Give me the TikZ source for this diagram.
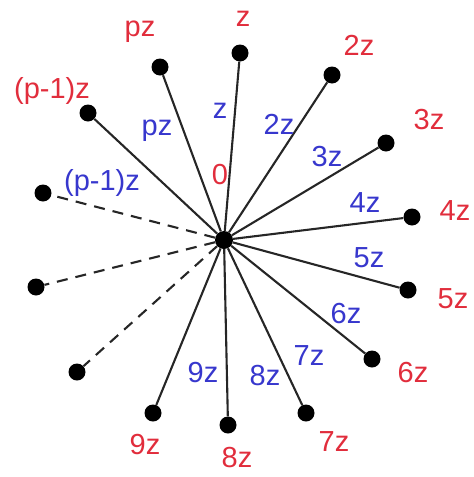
\documentclass[tikz,border=0pt]{standalone}
\usepackage{fontspec}
\setmainfont{Liberation Sans}
\usetikzlibrary{positioning}
\definecolor{lblred}{RGB}{225,45,60}
\definecolor{lblblue}{RGB}{55,55,205}

\begin{document}
\begin{tikzpicture}[x=1pt,y=-1pt,
  dot/.style={circle,fill=black,inner sep=0pt,minimum size=17pt},
  spoke/.style={line width=2.1pt,black!85},
  ghost/.style={line width=2.1pt,black!85,dash pattern=on 11pt off 8pt},
  outlbl/.style={text=lblred,inner sep=0pt,font=\fontsize{29}{31}\selectfont},
  inlbl/.style={text=lblblue,inner sep=0pt,font=\fontsize{29}{31}\selectfont}]

\useasboundingbox (0,0) rectangle (474,477);

% Define centre position
\def\cx{224}
\def\cy{240}

% Centre point
\node[dot, minimum size=18pt] (c) at (\cx,\cy) {};
\node[outlbl] (zero) at (220,175) {0};

% Solid spokes: dot, outer (red) label, inner (blue) label
\foreach \n/\dx/\dy/\lbl/\ox/\oy/\ix/\iy in {
    1/240/53/z/243/19/220/111,
    2/332/75/2z/359/45/279/124,
    3/386/143/3z/429/120/327/157,
    4/412/217/4z/455/211/365/203,
    5/408/290/5z/453/299/369/258,
    6/372/359/6z/413/373/346/314,
    7/306/413/7z/334/442/309/356,
    8/228/425/8z/237/458/265/376,
    9/153/413/9z/145/445/203/373,
    p/160/67/pz/140/32/157/131,
    q/88/113/(p-1)z/52/91/102/183} {
    \node[dot] (d\n) at (\dx,\dy) {};
    \draw[spoke] (c) -- (d\n);
    \node[outlbl] (o\n) at (\ox,\oy) {\lbl};
    \node[inlbl] (i\n) at (\ix,\iy) {\lbl};
}

% Dashed spokes (unlabelled)
\foreach \n/\dx/\dy in {1/43/193, 2/36/287, 3/77/372} {
    \node[dot] (e\n) at (\dx,\dy) {};
    \draw[ghost] (c) -- (e\n);
}

\end{tikzpicture}
\end{document}
